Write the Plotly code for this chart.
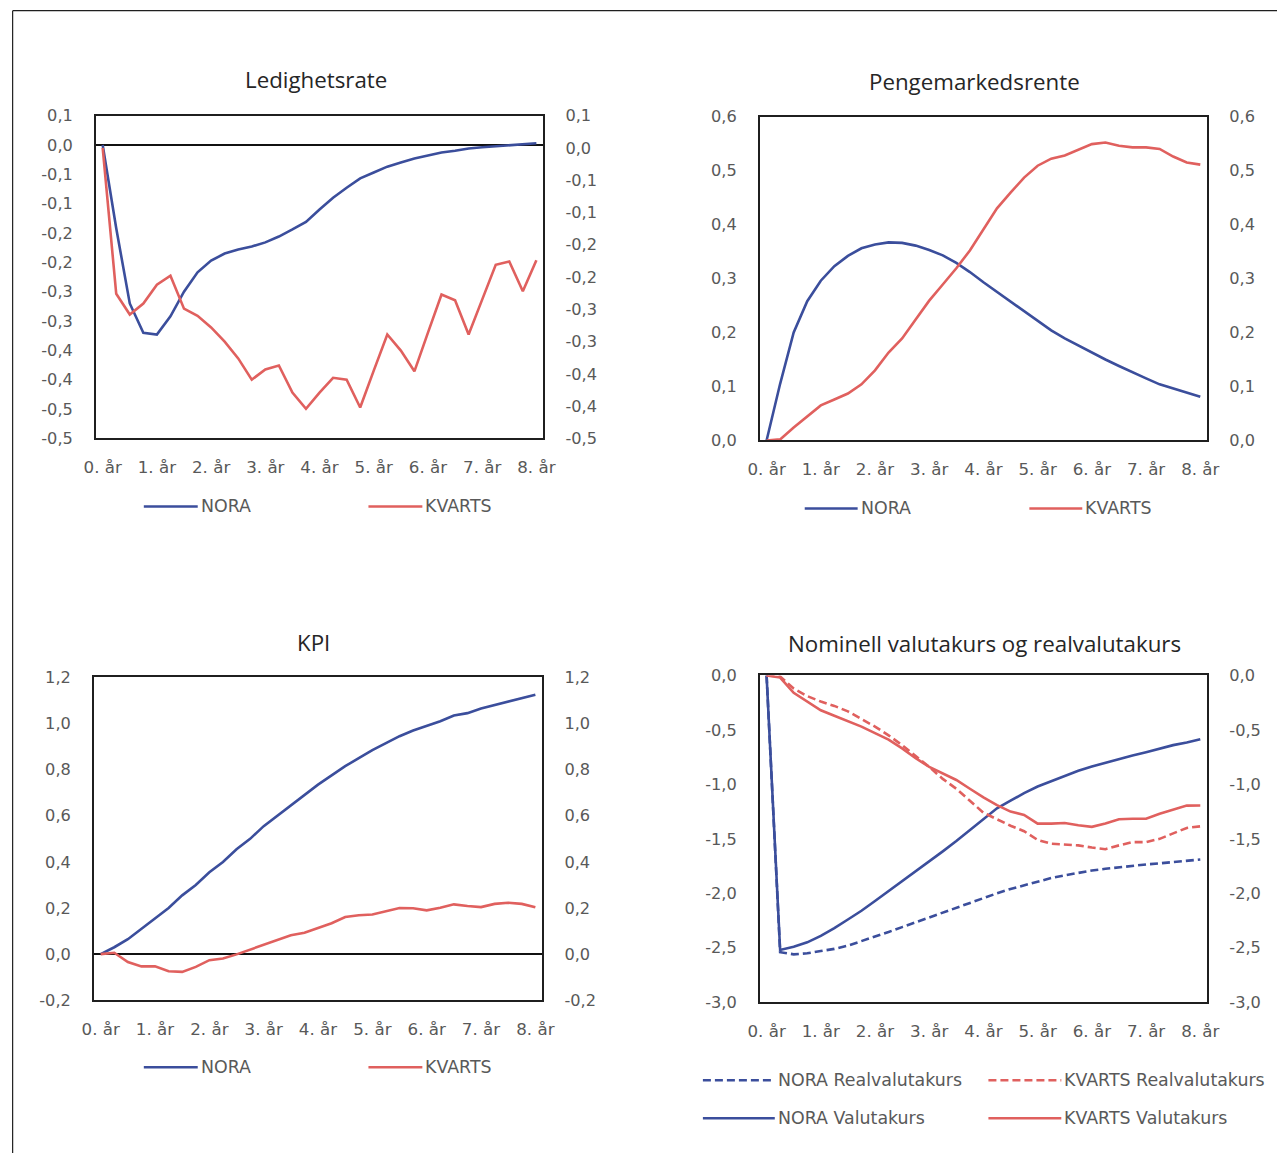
import plotly.graph_objects as go

# layout grid: positions below are given on a 1284x1160 grid; the page is laid out
# a little larger (ZOOM_X / ZOOM_Y) inside the default 8px body margin
ZOOM_X, OFF_X = 0.983, 3.1
ZOOM_Y, OFF_Y = 0.984, 0.5
PAD = 8
W, H = 1289, 1163

# ---- shared category axis: quarters 0..32, labelled each year ----
quarters = list(range(33))
year_ticks = [0, 4, 8, 12, 16, 20, 24, 28, 32]
year_labels = ["0. år", "1. år", "2. år", "3. år", "4. år", "5. år", "6. år", "7. år", "8. år"]

# ---- Ledighetsrate ----
ledighet_nora = [0.000, -0.142, -0.270, -0.320, -0.323, -0.292, -0.250, -0.217, -0.197, -0.185,
                 -0.178, -0.173, -0.166, -0.156, -0.144, -0.131, -0.110, -0.090, -0.073, -0.057,
                 -0.047, -0.037, -0.030, -0.023, -0.018, -0.013, -0.010, -0.006, -0.004, -0.002,
                 0.000, 0.002, 0.003]
ledighet_kvarts = [0.000, -0.226, -0.258, -0.241, -0.212, -0.198, -0.249, -0.260, -0.278, -0.300,
                   -0.326, -0.359, -0.343, -0.337, -0.379, -0.404, -0.379, -0.356, -0.359, -0.402,
                   -0.345, -0.289, -0.314, -0.346, -0.286, -0.227, -0.236, -0.289, -0.235, -0.181,
                   -0.176, -0.222, -0.174]
ledighet_left_vals = [0.05, 0.0, -0.05, -0.10, -0.15, -0.20, -0.25, -0.30, -0.35, -0.40, -0.45, -0.50]
ledighet_left_text = ["0,1", "0,0", "-0,1", "-0,1", "-0,2", "-0,2", "-0,3", "-0,3", "-0,4", "-0,4", "-0,5", "-0,5"]
ledighet_right_vals = [0.05, 0.0, -0.05, -0.10, -0.15, -0.20, -0.25, -0.30, -0.35, -0.40, -0.45]
ledighet_right_text = ["0,1", "0,0", "-0,1", "-0,1", "-0,2", "-0,2", "-0,3", "-0,3", "-0,4", "-0,4", "-0,5"]

# ---- Pengemarkedsrente ----
penge_nora = [0.000, 0.105, 0.200, 0.258, 0.296, 0.323, 0.342, 0.356, 0.363, 0.367,
              0.366, 0.361, 0.353, 0.343, 0.329, 0.312, 0.293, 0.275, 0.258, 0.239,
              0.222, 0.204, 0.189, 0.176, 0.162, 0.150, 0.138, 0.126, 0.115, 0.104,
              0.096, 0.089, 0.081]
penge_kvarts = [0.000, 0.002, 0.024, 0.044, 0.065, 0.076, 0.087, 0.104, 0.130, 0.163,
                0.189, 0.224, 0.259, 0.289, 0.319, 0.352, 0.391, 0.430, 0.459, 0.487,
                0.509, 0.522, 0.528, 0.539, 0.549, 0.552, 0.546, 0.543, 0.543, 0.540,
                0.526, 0.515, 0.511]
penge_vals = [0.0, 0.1, 0.2, 0.3, 0.4, 0.5, 0.6]
penge_text = ["0,0", "0,1", "0,2", "0,3", "0,4", "0,5", "0,6"]

# ---- KPI ----
kpi_nora = [0.000, 0.030, 0.065, 0.110, 0.155, 0.200, 0.255, 0.300, 0.355, 0.400,
            0.455, 0.500, 0.555, 0.600, 0.645, 0.690, 0.735, 0.775, 0.815, 0.850,
            0.885, 0.915, 0.945, 0.970, 0.990, 1.010, 1.035, 1.045, 1.065, 1.080,
            1.095, 1.110, 1.125]
kpi_kvarts = [0.000, 0.006, -0.034, -0.053, -0.053, -0.074, -0.077, -0.055, -0.026, -0.019,
              -0.001, 0.020, 0.039, 0.061, 0.082, 0.093, 0.112, 0.134, 0.161, 0.169,
              0.172, 0.185, 0.200, 0.199, 0.190, 0.201, 0.216, 0.209, 0.204, 0.218,
              0.223, 0.218, 0.203]
kpi_vals = [-0.2, 0.0, 0.2, 0.4, 0.6, 0.8, 1.0, 1.2]
kpi_text = ["-0,2", "0,0", "0,2", "0,4", "0,6", "0,8", "1,0", "1,2"]

# ---- Nominell valutakurs og realvalutakurs ----
nora_real = [0.0, -2.54, -2.56, -2.55, -2.53, -2.51, -2.48, -2.44, -2.40, -2.355,
             -2.31, -2.265, -2.22, -2.175, -2.13, -2.085, -2.04, -2.00, -1.96, -1.925,
             -1.89, -1.86, -1.835, -1.81, -1.79, -1.775, -1.76, -1.745, -1.735, -1.725,
             -1.713, -1.70, -1.69]
kvarts_real = [0.0, -0.01, -0.12, -0.19, -0.24, -0.28, -0.33, -0.40, -0.47, -0.55,
               -0.64, -0.74, -0.84, -0.95, -1.04, -1.15, -1.26, -1.32, -1.38, -1.43,
               -1.51, -1.545, -1.55, -1.56, -1.58, -1.595, -1.56, -1.53, -1.53, -1.50,
               -1.45, -1.40, -1.385]
nora_valuta = [0.0, -2.52, -2.49, -2.45, -2.39, -2.32, -2.24, -2.16, -2.07, -1.98,
               -1.89, -1.80, -1.71, -1.615, -1.52, -1.42, -1.325, -1.22, -1.15, -1.08,
               -1.02, -0.97, -0.92, -0.875, -0.836, -0.80, -0.765, -0.735, -0.705, -0.67,
               -0.64, -0.615, -0.585]
kvarts_valuta = [0.0, -0.02, -0.16, -0.24, -0.32, -0.37, -0.42, -0.47, -0.53, -0.59,
                 -0.67, -0.76, -0.84, -0.90, -0.96, -1.04, -1.12, -1.19, -1.25, -1.28,
                 -1.36, -1.36, -1.355, -1.375, -1.39, -1.36, -1.32, -1.315, -1.315, -1.27,
                 -1.23, -1.195, -1.194]
valuta_vals = [0.0, -0.5, -1.0, -1.5, -2.0, -2.5, -3.0]
valuta_text = ["0,0", "-0,5", "-1,0", "-1,5", "-2,0", "-2,5", "-3,0"]

titles = ["Ledighetsrate", "Pengemarkedsrente", "KPI", "Nominell valutakurs og realvalutakurs"]

BLUE = "#3B4E9C"
RED = "#E0605E"
TICK_FONT = dict(family="DejaVu Sans", size=16.2, color="#595959")
XTICK_FONT = dict(family="DejaVu Sans", size=16.7, color="#595959")
LEGEND_FONT = dict(family="DejaVu Sans", size=17.4, color="#595959")
TITLE_FONT = dict(family="Open Sans", size=22.3, color="#262626")


def fx(gx):
    """grid column -> paper fraction"""
    return ((gx - OFF_X) / ZOOM_X - PAD) / W


def fy(gy):
    """grid row -> paper fraction"""
    return 1 - ((gy - OFF_Y) / ZOOM_Y - PAD) / H


# plot-area boxes on the grid: (left, top, right, bottom)
boxes = [(95, 115, 543, 438), (760, 116, 1208, 440), (93, 677, 542, 1000), (760, 675, 1208, 1002)]

fig = go.Figure()

line_w = 2.6
DASH = "8px,4px"
SOLID = "solid"

# (name, values, colour, dash, xaxis, yaxis)
series = [
    ("NORA", ledighet_nora, BLUE, SOLID, "x", "y"),
    ("KVARTS", ledighet_kvarts, RED, SOLID, "x", "y2"),
    ("NORA", penge_nora, BLUE, SOLID, "x2", "y3"),
    ("KVARTS", penge_kvarts, RED, SOLID, "x2", "y4"),
    ("NORA", kpi_nora, BLUE, SOLID, "x3", "y5"),
    ("KVARTS", kpi_kvarts, RED, SOLID, "x3", "y6"),
    ("NORA Realvalutakurs", nora_real, BLUE, DASH, "x4", "y7"),
    ("KVARTS Realvalutakurs", kvarts_real, RED, DASH, "x4", "y8"),
    ("NORA Valutakurs", nora_valuta, BLUE, SOLID, "x4", "y7"),
    ("KVARTS Valutakurs", kvarts_valuta, RED, SOLID, "x4", "y8"),
]
for name, vals, colour, dash, xa, ya in series:
    fig.add_trace(go.Scatter(x=quarters, y=vals, name=name, mode="lines",
                             line=dict(color=colour, width=line_w, dash=dash),
                             xaxis=xa, yaxis=ya, showlegend=False))

AX_LINE = dict(showline=True, linecolor="#1f1f1f", linewidth=1.6, mirror=True, showgrid=False)


def xaxis_spec(box, yname):
    l, t, r, b = box
    return dict(domain=[fx(l), fx(r)], range=[-0.5, 32.5], tickmode="array", anchor=yname,
                tickvals=year_ticks, ticktext=year_labels, ticks="outside", ticklen=13,
                tickcolor="rgba(0,0,0,0)", tickfont=XTICK_FONT, zeroline=False, **AX_LINE)


def left_y(box, rng, vals, text, xname, zero=False):
    l, t, r, b = box
    return dict(domain=[fy(b), fy(t)], range=rng, tickmode="array", tickvals=vals, ticktext=text,
                ticks="outside", ticklen=18, tickcolor="rgba(0,0,0,0)", tickfont=TICK_FONT,
                anchor=xname, zeroline=zero, zerolinecolor="#111111", zerolinewidth=1.6,
                **AX_LINE)


def right_y(rng, vals, text, overlay, xname):
    return dict(overlaying=overlay, side="right", anchor=xname, range=rng, tickmode="array",
                tickvals=vals, ticktext=text, ticks="outside", ticklen=18,
                tickcolor="rgba(0,0,0,0)", tickfont=TICK_FONT, showgrid=False, zeroline=False,
                showline=False)


fig.update_layout(
    width=W, height=H, margin=dict(l=0, r=0, t=0, b=0),
    paper_bgcolor="white", plot_bgcolor="white", showlegend=False,
    xaxis=xaxis_spec(boxes[0], "y"),
    xaxis2=xaxis_spec(boxes[1], "y3"),
    xaxis3=xaxis_spec(boxes[2], "y5"),
    xaxis4=xaxis_spec(boxes[3], "y7"),
    yaxis=left_y(boxes[0], [-0.5, 0.05], ledighet_left_vals, ledighet_left_text, "x", zero=True),
    yaxis2=right_y([-0.45, 0.05], ledighet_right_vals, ledighet_right_text, "y", "x"),
    yaxis3=left_y(boxes[1], [0, 0.6], penge_vals, penge_text, "x2"),
    yaxis4=right_y([0, 0.6], penge_vals, penge_text, "y3", "x2"),
    yaxis5=left_y(boxes[2], [-0.2, 1.2], kpi_vals, kpi_text, "x3", zero=True),
    yaxis6=right_y([-0.2, 1.2], kpi_vals, kpi_text, "y5", "x3"),
    yaxis7=left_y(boxes[3], [-3, 0], valuta_vals, valuta_text, "x4"),
    yaxis8=right_y([-3, 0], valuta_vals, valuta_text, "y7", "x4"),
)

# legend keys under each panel: (label, colour, dash, key start, key end, row)
legend_rows = [
    ("NORA", BLUE, SOLID, 143, 197, 506),
    ("KVARTS", RED, SOLID, 368, 422, 506),
    ("NORA", BLUE, SOLID, 805, 858, 508),
    ("KVARTS", RED, SOLID, 1030, 1083, 508),
    ("NORA", BLUE, SOLID, 143, 197, 1067),
    ("KVARTS", RED, SOLID, 368, 422, 1067),
    ("NORA Realvalutakurs", BLUE, DASH, 703, 775, 1080),
    ("KVARTS Realvalutakurs", RED, DASH, 989, 1062, 1080),
    ("NORA Valutakurs", BLUE, SOLID, 703, 775, 1118),
    ("KVARTS Valutakurs", RED, SOLID, 989, 1062, 1118),
]
for label, colour, dash, x0, x1, row in legend_rows:
    fig.add_shape(type="line", xref="paper", yref="paper", x0=fx(x0), x1=fx(x1),
                  y0=fy(row), y1=fy(row), line=dict(color=colour, width=line_w, dash=dash))
    fig.add_annotation(text=label, x=fx(x1 + 1), y=fy(row), xref="paper", yref="paper",
                       xanchor="left", yanchor="middle", showarrow=False, font=LEGEND_FONT)

# chart titles
title_pos = [(315, 79), (975, 81), (313, 642), (985, 643)]
for text, (gx, gy) in zip(titles, title_pos):
    fig.add_annotation(text=text, x=fx(gx), y=fy(gy), xref="paper", yref="paper",
                       xanchor="center", yanchor="middle", showarrow=False, font=TITLE_FONT)

# outer frame: top and left edges of the chart-area border (left edge of the figure)
FRAME = dict(color="#1f1f1f", width=1.2)
frame_x = max(fx(9), 0.0005)
fig.add_shape(type="line", xref="paper", yref="paper", x0=frame_x, y0=fy(10), x1=1, y1=fy(10),
              line=FRAME, layer="below")
fig.add_shape(type="line", xref="paper", yref="paper", x0=frame_x, y0=fy(10), x1=frame_x, y1=0,
              line=FRAME, layer="below")

fig.write_html("out.html")
